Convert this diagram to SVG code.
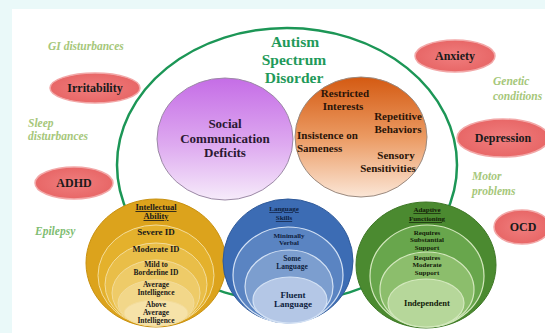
<svg xmlns="http://www.w3.org/2000/svg" width="545" height="333" viewBox="0 0 545 333">
<defs>
<linearGradient id="gPurple" x1="0" y1="0" x2="0" y2="1">
<stop offset="0" stop-color="#c56de6"/><stop offset="0.55" stop-color="#deaaf0"/><stop offset="1" stop-color="#f6ebfa"/>
</linearGradient>
<linearGradient id="gOrange" x1="0" y1="0" x2="0" y2="1">
<stop offset="0" stop-color="#d45a12"/><stop offset="0.5" stop-color="#eb9a62"/><stop offset="1" stop-color="#fbe6d6"/>
</linearGradient>
<radialGradient id="gSalmon" cx="0.5" cy="0.5" r="0.6">
<stop offset="0" stop-color="#f07e7e"/><stop offset="1" stop-color="#e66262"/>
</radialGradient>
<style>
.t{font-family:"Liberation Serif","Times New Roman",serif;font-weight:bold;text-anchor:middle;fill:#1a1a1a}
.side{font-family:"Liberation Serif","Times New Roman",serif;font-style:italic;font-weight:bold;font-size:11.5px;fill:#a6c77a}
.pill{fill:url(#gSalmon);stroke:#f2a8a8;stroke-width:1.5}
.pt{font-size:12px}
.u{text-decoration:underline}
.yi{stroke:#f3dc9a;stroke-width:1}
.bi{stroke:#d3e1f4;stroke-width:1.2}
.gi{stroke:#d3e8bd;stroke-width:1.2}
</style>
</defs>
<rect x="0" y="0" width="545" height="333" fill="#eaf9f9"/>
<rect x="12" y="9" width="533" height="324" fill="#ffffff"/>

<g id="asd">
<ellipse cx="287" cy="165" rx="170" ry="137" fill="none" stroke="#1c9656" stroke-width="2.5"/>
<text class="t" x="295" y="47" font-size="15.5" style="fill:#1f9a5a">Autism</text>
<text class="t" x="294" y="65" font-size="15.5" style="fill:#1f9a5a">Spectrum</text>
<text class="t" x="294" y="83" font-size="15.5" style="fill:#1f9a5a">Disorder</text>
</g>

<g id="social">
<ellipse cx="225" cy="139" rx="68" ry="61" fill="url(#gPurple)" stroke="#9c8aa6" stroke-width="1"/>
<text class="t" x="225" y="128" font-size="13" style="fill:#2a1830">Social</text>
<text class="t" x="225" y="143" font-size="13" style="fill:#2a1830">Communication</text>
<text class="t" x="225" y="157" font-size="13" style="fill:#2a1830">Deficits</text>
</g>

<g id="restricted">
<ellipse cx="361" cy="137" rx="66" ry="60" fill="url(#gOrange)" stroke="#9a8a80" stroke-width="1"/>
<text class="t" x="345" y="97" font-size="11" style="fill:#2a1408">Restricted</text>
<text class="t" x="343" y="110" font-size="11" style="fill:#2a1408">Interests</text>
<text class="t" x="398" y="120" font-size="11" style="fill:#2a1408">Repetitive</text>
<text class="t" x="398" y="133" font-size="11" style="fill:#2a1408">Behaviors</text>
<text class="t" x="297" y="139" font-size="11" style="fill:#2a1408;text-anchor:start">Insistence on</text>
<text class="t" x="297" y="152" font-size="11" style="fill:#2a1408;text-anchor:start">Sameness</text>
<text class="t" x="396" y="159" font-size="11" style="fill:#2a1408">Sensory</text>
<text class="t" x="388" y="172" font-size="11" style="fill:#2a1408">Sensitivities</text>
</g>

<g id="side-labels">
<text class="side" x="48" y="50">GI disturbances</text>
<text class="side" x="28" y="127">Sleep</text>
<text class="side" x="28" y="140">disturbances</text>
<text class="side" x="35" y="235" style="fill:#7fbd72">Epilepsy</text>
<text class="side" x="493" y="85">Genetic</text>
<text class="side" x="493" y="100">conditions</text>
<text class="side" x="472" y="180">Motor</text>
<text class="side" x="472" y="195">problems</text>
</g>

<g id="irritability">
<ellipse class="pill" cx="95" cy="88" rx="45" ry="15"/>
<text class="t pt" x="95" y="92">Irritability</text>
</g>
<g id="adhd">
<ellipse class="pill" cx="74" cy="183" rx="39" ry="16"/>
<text class="t pt" x="74" y="187">ADHD</text>
</g>
<g id="anxiety">
<ellipse class="pill" cx="455" cy="56" rx="40" ry="16"/>
<text class="t pt" x="455" y="60">Anxiety</text>
</g>
<g id="depression">
<ellipse class="pill" cx="503" cy="138" rx="46" ry="19"/>
<text class="t pt" x="503" y="142">Depression</text>
</g>
<g id="ocd">
<ellipse class="pill" cx="522" cy="227" rx="28" ry="17"/>
<text class="t pt" x="523" y="231">OCD</text>
</g>

<g id="intellectual">
<ellipse cx="156" cy="263" rx="70" ry="64" fill="#dca31c" stroke="#c8900f" stroke-width="1"/>
<ellipse class="yi" cx="156" cy="275.5" rx="58" ry="50.5" fill="#e4b12c"/>
<ellipse class="yi" cx="156" cy="284.5" rx="51" ry="41.5" fill="#e9be48"/>
<ellipse class="yi" cx="156" cy="293" rx="44" ry="33" fill="#eecb68"/>
<ellipse class="yi" cx="156" cy="303" rx="38" ry="23" fill="#f2d789"/>
<ellipse class="yi" cx="156" cy="313" rx="32" ry="13" fill="#f6e2a8"/>
<text class="t u" x="156" y="210" font-size="8.5">Intellectual</text>
<text class="t u" x="156" y="219" font-size="8.5">Ability</text>
<text class="t" x="156" y="235" font-size="9">Severe ID</text>
<text class="t" x="156" y="252" font-size="8.5">Moderate ID</text>
<text class="t" x="156" y="267" font-size="7.5">Mild to</text>
<text class="t" x="156" y="275" font-size="7.5">Borderline ID</text>
<text class="t" x="156" y="287" font-size="7.5">Average</text>
<text class="t" x="156" y="295" font-size="7.5">Intelligence</text>
<text class="t" x="156" y="307" font-size="7.5">Above</text>
<text class="t" x="156" y="315" font-size="7.5">Average</text>
<text class="t" x="156" y="323" font-size="7.5">Intelligence</text>
</g>

<g id="language">
<ellipse cx="288" cy="261" rx="65" ry="62" fill="#3c6cb4" stroke="#2f5a9a" stroke-width="1"/>
<ellipse class="bi" cx="288" cy="275" rx="55" ry="48" fill="#5a84c2"/>
<ellipse class="bi" cx="289" cy="286.5" rx="44" ry="36.5" fill="#7c9ecf"/>
<ellipse class="bi" cx="290" cy="300" rx="37" ry="23" fill="#b4c7e6"/>
<text class="t u" x="284" y="211" font-size="7" style="fill:#0e1e40">Language</text>
<text class="t u" x="284" y="220" font-size="7" style="fill:#0e1e40">Skills</text>
<text class="t" x="289" y="238" font-size="7" style="fill:#0e1e40">Minimally</text>
<text class="t" x="289" y="245" font-size="7" style="fill:#0e1e40">Verbal</text>
<text class="t" x="292" y="261" font-size="7.5" style="fill:#0e1e40">Some</text>
<text class="t" x="292" y="269" font-size="7.5" style="fill:#0e1e40">Language</text>
<text class="t" x="293" y="298" font-size="9" style="fill:#0e1e40">Fluent</text>
<text class="t" x="293" y="307" font-size="9" style="fill:#0e1e40">Language</text>
</g>

<g id="adaptive">
<ellipse cx="426" cy="265" rx="70" ry="63" fill="#4b8a30" stroke="#3e7826" stroke-width="1"/>
<ellipse class="gi" cx="427" cy="276" rx="57" ry="51" fill="#68a64c"/>
<ellipse class="gi" cx="427" cy="289.5" rx="47" ry="37.5" fill="#8cbe6c"/>
<ellipse class="gi" cx="426" cy="303" rx="38" ry="24" fill="#b6d79a"/>
<text class="t u" x="427" y="212" font-size="7" style="fill:#122008">Adaptive</text>
<text class="t u" x="427" y="221" font-size="7" style="fill:#122008">Functioning</text>
<text class="t" x="427" y="235" font-size="7" style="fill:#122008">Requires</text>
<text class="t" x="427" y="242" font-size="7" style="fill:#122008">Substantial</text>
<text class="t" x="427" y="250" font-size="7" style="fill:#122008">Support</text>
<text class="t" x="427" y="260" font-size="7" style="fill:#122008">Requires</text>
<text class="t" x="427" y="267" font-size="7" style="fill:#122008">Moderate</text>
<text class="t" x="427" y="275" font-size="7" style="fill:#122008">Support</text>
<text class="t" x="427" y="306" font-size="8.5" style="fill:#122008">Independent</text>
</g>
</svg>
